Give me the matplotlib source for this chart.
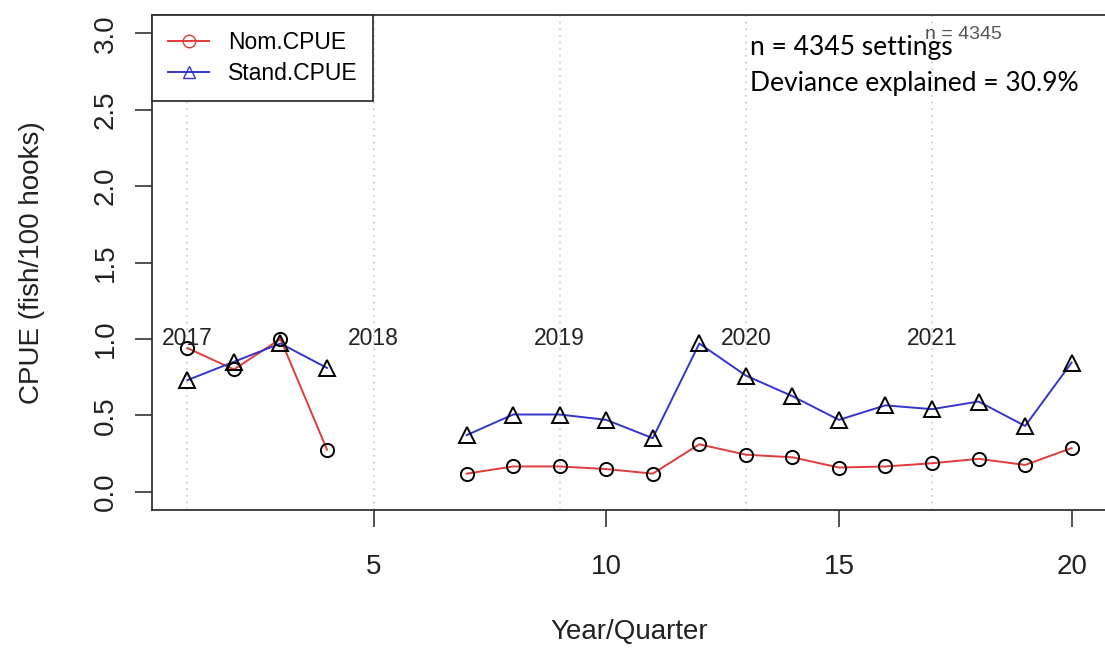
import numpy as np
import matplotlib
matplotlib.use("Agg")
import matplotlib.pyplot as plt
from matplotlib.lines import Line2D

quarters = list(range(1, 21))
nom_cpue = [0.94, 0.80, 1.00, 0.275, None, None, 0.118, 0.165, 0.165, 0.148, 0.118,
            0.31, 0.242, 0.225, 0.158, 0.165, 0.186, 0.215, 0.175, 0.285]
stand_cpue = [0.73, 0.85, 0.97, 0.81, None, None, 0.37, 0.505, 0.505, 0.47, 0.35,
              0.97, 0.76, 0.625, 0.47, 0.565, 0.54, 0.59, 0.43, 0.845]
year_labels = ["2017", "2018", "2019", "2020", "2021"]
year_start_q = [1, 5, 9, 13, 17]
x_ticks = [5, 10, 15, 20]
y_ticks = [0.0, 0.5, 1.0, 1.5, 2.0, 2.5, 3.0]

nom = np.array([np.nan if v is None else v for v in nom_cpue])
std = np.array([np.nan if v is None else v for v in stand_cpue])
q = np.array(quarters)

plt.rcParams['font.family'] = ['Liberation Sans', 'DejaVu Sans']

fig = plt.figure(figsize=(11.05, 6.5), dpi=100)
ax = fig.add_axes([152/1105, 140/650, 955/1105, 495/650])

red = '#E23B3B'
blue = '#3535CC'

for xv in year_start_q:
    ax.axvline(xv, color='#c8c8c8', ls=(0, (1, 3)), lw=1.2, zorder=0)

ax.plot(q, nom, color=red, lw=1.4, zorder=2)
ax.plot(q, std, color=blue, lw=1.4, zorder=2)
ax.plot(q, nom, ls='none', marker='o', ms=9.5, mfc='none', mec='black', mew=1.4, zorder=3)
ax.plot(q, std, ls='none', marker='^', ms=11, mfc='none', mec='black', mew=1.4, zorder=3)

for lab, xv in zip(year_labels, year_start_q):
    ax.text(xv, 1.0, lab, ha='center', va='center', fontsize=16.5, color='#222222')

ax.set_xlim(0.24, 20.76)
ax.set_ylim(-0.12, 3.12)
ax.set_xticks(x_ticks)
ax.set_yticks(y_ticks)
ax.set_yticklabels([f"{v:.1f}" for v in y_ticks], rotation=90, va='center')
ax.tick_params(axis='both', length=12, width=1.2, labelsize=20, color='#333333', labelcolor='#222222')
ax.tick_params(axis='x', pad=20)
ax.tick_params(axis='y', pad=12)
for s in ax.spines.values():
    s.set_linewidth(1.3)
    s.set_color('#333333')

ax.set_xlabel("Year/Quarter", fontsize=20, labelpad=28, color='#222222')
ax.set_ylabel("CPUE (fish/100 hooks)", fontsize=20, labelpad=34, color='#222222')

handles = [Line2D([], [], color=red, marker='o', mfc='none', mec=red, ms=9, lw=1.4),
           Line2D([], [], color=blue, marker='^', mfc='none', mec=blue, ms=9, lw=1.4)]
leg = ax.legend(handles, ["Nom.CPUE", "Stand.CPUE"], loc='upper left', borderaxespad=0,
                fontsize=16.5, frameon=True, fancybox=False, edgecolor='#333333',
                handlelength=1.8, handletextpad=0.8, borderpad=0.7, labelspacing=0.35)
leg.get_frame().set_linewidth(1.3)
leg.get_frame().set_alpha(1)

ax.text(16.85, 2.99, "n = 4345", fontsize=14, color='#555555', ha='left', va='center')
fig.text(750/1105, 1 - 48/650, "n = 4345 settings", fontsize=19, family=['Lato', 'DejaVu Sans'],
         ha='left', va='center', color='black')
fig.text(750/1105, 1 - 84/650, "Deviance explained = 30.9%", fontsize=19, family=['Lato', 'DejaVu Sans'],
         ha='left', va='center', color='black')

fig.savefig("out.png", dpi=100)
